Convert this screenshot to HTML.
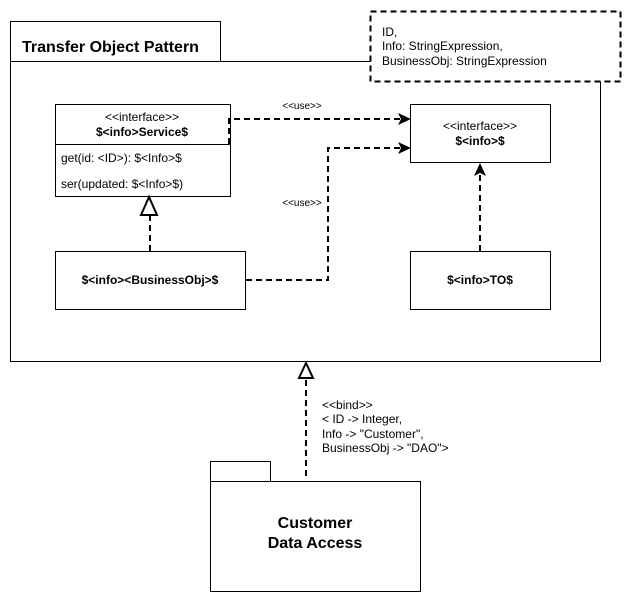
<!DOCTYPE html>
<html><head><meta charset="utf-8"><style>
body{margin:0;background:#fff}
text{font-family:"Liberation Sans",sans-serif;fill:#000}
</style></head><body>
<svg width="632" height="602" viewBox="0 0 632 602" xmlns="http://www.w3.org/2000/svg">
<g fill="none" stroke="#000" stroke-width="1">
<rect x="10.5" y="21.5" width="210" height="40" fill="#fff"/>
<rect x="10.5" y="61.5" width="590" height="300" fill="#fff"/>
<rect x="370.5" y="11.5" width="250" height="70" fill="#fff" stroke-width="2" stroke-dasharray="6,4"/>
<rect x="55.5" y="104.5" width="175" height="92" fill="#fff"/>
<line x1="55.5" y1="144.5" x2="230.5" y2="144.5"/>
<rect x="410.5" y="104.5" width="140" height="58" fill="#fff"/>
<rect x="55.5" y="251.5" width="190" height="58" fill="#fff"/>
<rect x="410.5" y="251.5" width="140" height="58" fill="#fff"/>
<rect x="210.5" y="461.5" width="60" height="20" fill="#fff"/>
<rect x="210.5" y="481.5" width="210" height="110" fill="#fff"/>
<g stroke-width="2" stroke-dasharray="6,4">
<path d="M229 144 V119 H402"/>
<path d="M246 280 H328 V148 H402"/>
<path d="M480 251 V174"/>
<path d="M150 251 V215"/>
<path d="M306 476 V378"/>
</g>
</g>
<path d="M411 119 L398 113 L401 119 L398 125 Z" fill="#000"/>
<path d="M411 148 L398 142 L401 148 L398 154 Z" fill="#000"/>
<path d="M480 163 L474 176 L480 173 L486 176 Z" fill="#000"/>
<path d="M149 197 L141 215 L157 215 Z" fill="#fff" stroke="#000" stroke-width="2"/>
<path d="M306 363 L299 378 L313 378 Z" fill="#fff" stroke="#000" stroke-width="2"/>
<text x="22" y="52" font-size="16" font-weight="bold">Transfer Object Pattern</text>
<text x="382" y="36" font-size="12">ID,</text>
<text x="382" y="50" font-size="12">Info: StringExpression,</text>
<text x="382" y="65" font-size="12">BusinessObj: StringExpression</text>
<text x="142" y="121" font-size="12" text-anchor="middle">&lt;&lt;interface&gt;&gt;</text>
<text x="142" y="136" font-size="12" font-weight="bold" text-anchor="middle">$&lt;info&gt;Service$</text>
<text x="61" y="162" font-size="12">get(id: &lt;ID&gt;): $&lt;Info&gt;$</text>
<text x="61" y="188" font-size="12">ser(updated: $&lt;Info&gt;$)</text>
<text x="480" y="130" font-size="12" text-anchor="middle">&lt;&lt;interface&gt;&gt;</text>
<text x="480" y="145" font-size="12" font-weight="bold" text-anchor="middle">$&lt;info&gt;$</text>
<text x="150" y="284" font-size="12" font-weight="bold" text-anchor="middle">$&lt;info&gt;&lt;BusinessObj&gt;$</text>
<text x="480" y="284" font-size="12" font-weight="bold" text-anchor="middle">$&lt;info&gt;TO$</text>
<text x="302" y="109" font-size="10" text-anchor="middle">&lt;&lt;use&gt;&gt;</text>
<text x="302" y="206" font-size="10" text-anchor="middle">&lt;&lt;use&gt;&gt;</text>
<text x="322" y="409" font-size="12">&lt;&lt;bind&gt;&gt;</text>
<text x="322" y="423" font-size="12">&lt; ID -&gt; Integer,</text>
<text x="322" y="438" font-size="12">Info -&gt; "Customer",</text>
<text x="322" y="452" font-size="12">BusinessObj -&gt; "DAO"&gt;</text>
<text x="315" y="528" font-size="16" font-weight="bold" text-anchor="middle">Customer</text>
<text x="315" y="548" font-size="16" font-weight="bold" text-anchor="middle">Data Access</text>
</svg>
</body></html>
